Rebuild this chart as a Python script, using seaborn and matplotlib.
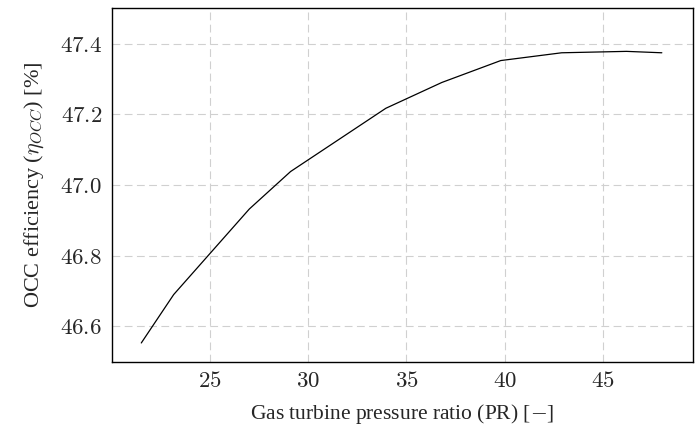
import matplotlib
matplotlib.use("Agg")
import matplotlib.pyplot as plt
import seaborn as sns
import pandas as pd

pressure_ratio = [21.5, 23.15, 27.0, 29.1, 33.95, 36.8, 39.8, 42.9, 46.2, 48.0]
efficiency = [46.553, 46.690, 46.932, 47.038, 47.217, 47.290, 47.352, 47.374, 47.378, 47.374]
x_ticks = [25, 30, 35, 40, 45]
y_ticks = [46.6, 46.8, 47.0, 47.2, 47.4]

sns.set_theme(style="white")
plt.rcParams["font.family"] = ["Liberation Serif", "DejaVu Serif"]
plt.rcParams["mathtext.fontset"] = "cm"

df = pd.DataFrame({"PR": pressure_ratio, "eta": efficiency})

fig = plt.figure(figsize=(6.95, 4.34), dpi=100)
ax = fig.add_axes([0.1609, 0.1666, 0.9975 - 0.1609, 0.981 - 0.1666])

sns.lineplot(data=df, x="PR", y="eta", ax=ax, color="black", linewidth=0.9,
             estimator=None, sort=False)

ax.set_xlim(20, 49.6)
ax.set_ylim(46.5, 47.5)
ax.set_xticks(x_ticks)
ax.set_yticks(y_ticks)
ax.set_xticklabels([f"${v}$" for v in x_ticks])
ax.set_yticklabels([f"${v:.1f}$" for v in y_ticks])
ax.tick_params(axis="both", labelsize=16.5, direction="in", length=4, width=0.6,
               color="#555555", pad=7)

ax.grid(True, color="#d0d0d0", linestyle=(0, (7, 4)), linewidth=0.8)
for s in ax.spines.values():
    s.set_color("black")
    s.set_linewidth(1.0)

ax.set_xlabel("Gas turbine pressure ratio (PR) [$-$]", fontsize=15.5, labelpad=7)
ax.set_ylabel(r"OCC efficiency ($\eta_{OCC}$) [%]", fontsize=16, labelpad=10)

fig.savefig("out.png", dpi=100)
